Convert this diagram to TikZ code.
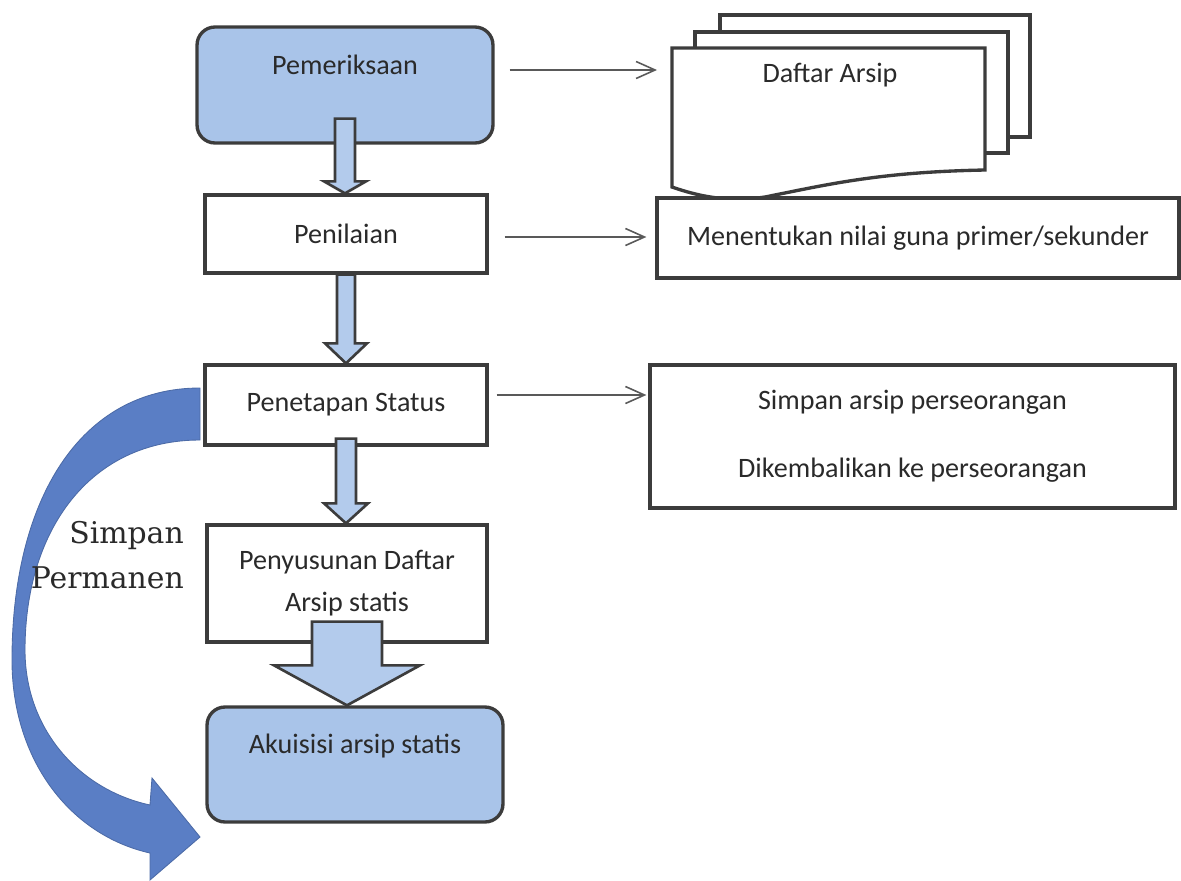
\documentclass[tikz,border=0pt]{standalone}
\usepackage{fontspec}
\setmainfont{Carlito}
\newfontfamily\labelserif{DejaVu Serif}
\usetikzlibrary{positioning,arrows.meta,calc}

\definecolor{boxline}{HTML}{3C3C3C}
\definecolor{boxblue}{HTML}{A9C4E9}
\definecolor{arrblue}{HTML}{B3CBEC}
\definecolor{curveblue}{HTML}{5A7EC5}
\definecolor{txtgray}{HTML}{2A2A2A}

% block arrow: #1 from, #2 to, #3 shaft start above #1.south,
% #4 half shaft, #5 half head, #6 head length
\newcommand{\blkarrow}[6]{%
  \draw[blk] ($(#1.south)+(-#4,-#3)$) -- ($(#1.south)+(#4,-#3)$)
    -- ($(#1.south |- #2.north)+(#4,-#6)$) -- ($(#1.south |- #2.north)+(#5,-#6)$)
    -- (#1.south |- #2.north)
    -- ($(#1.south |- #2.north)+(-#5,-#6)$) -- ($(#1.south |- #2.north)+(-#4,-#6)$)
    -- cycle;}

\begin{document}
\begin{tikzpicture}[x=0.02cm, y=-0.02cm,
  proc/.style={rectangle, draw=boxline, line width=1.9pt, fill=white,
               text=txtgray, align=center,
               font=\fontsize{16}{23.8}\selectfont},
  procblue/.style={proc, rounded corners=0.36cm, fill=boxblue,
                   text height=0.4cm, text depth=0.84cm},
  link/.style={draw=black!65, line width=0.9pt,
               -{Straight Barb[length=0.38cm,width=0.34cm]}},
  blk/.style={draw=boxline, line width=1.5pt, fill=arrblue},
  sheet/.style={draw=boxline, line width=1.9pt, fill=white}
]
  \useasboundingbox (0,0) rectangle (1181,880);

  % simpan permanen arrow
  \filldraw[fill=curveblue, draw=curveblue!85!black, line width=0.5pt]
    (200,388) .. controls (80,388) and (12,500) .. (12,660)
    .. controls (12,760) and (70,835) .. (150,853)
    -- (150,880) -- (200,837) -- (152,778) -- (150,805)
    .. controls (80,790) and (25,730) .. (25,650)
    .. controls (25,530) and (90,440) .. (200,440) -- cycle;

  % left column
  \node[procblue, minimum width=5.92cm, minimum height=2.32cm] (pem) at (345,85) {Pemeriksaan};
  \node[proc, minimum width=5.64cm, minimum height=1.56cm] (pen) at (346,234) {Penilaian};
  \node[proc, minimum width=5.64cm, minimum height=1.6cm] (penet) at (346,405) {Penetapan Status};
  \node[proc, minimum width=5.6cm, minimum height=2.34cm] (penyus) at (347,583.5) {Penyusunan Daftar\\Arsip statis};
  \node[procblue, minimum width=5.92cm, minimum height=2.3cm] (aku) at (355,764.5) {Akuisisi arsip statis};

  % right column
  \draw[sheet] (720,15) rectangle (1030,137);
  \draw[sheet] (695,32) rectangle (1008,153);
  \draw[sheet] (672,48) -- (985,48) -- (985,170)
    .. controls (880,172) and (830,184) .. (765,197)
    .. controls (725,203) and (695,195) .. (672,187) -- cycle;
  \node[text=txtgray, font=\fontsize{16}{23.8}\selectfont] (doc) at (830,75) {Daftar Arsip};
  \coordinate (docin) at (672,70);

  \node[proc, minimum width=10.44cm, minimum height=1.6cm] (nilai) at (918,238) {Menentukan nilai guna primer/sekunder};
  \node[proc, minimum width=10.5cm, minimum height=2.86cm] (simpan) at (912.5,436.5)
    {Simpan arsip perseorangan\\[14.8pt]Dikembalikan ke perseorangan};

  \node[text=txtgray, align=right, anchor=east,
        font=\labelserif\fontsize{17}{25.5}\selectfont] (perm) at (190,555) {Simpan\\Permanen};

  % links
  \draw[link] ($(pem.east)+(15,-15)$) -- ($(docin)+(-15,0)$);
  \draw[link] ($(pen.east)+(16,3)$) -- ($(nilai.west |- pen.east)+(-9,3)$);
  \draw[link] ($(penet.east)+(8,-10)$) -- ($(simpan.west |- penet.east)+(-2,-10)$);

  % block arrows
  \blkarrow{pem}{pen}{26}{10}{21}{12}
  \blkarrow{pen}{penet}{0}{9}{21}{20}
  \blkarrow{penet}{penyus}{8}{10}{22}{20}
  \blkarrow{penyus}{aku}{22}{35}{73}{40}
\end{tikzpicture}
\end{document}
